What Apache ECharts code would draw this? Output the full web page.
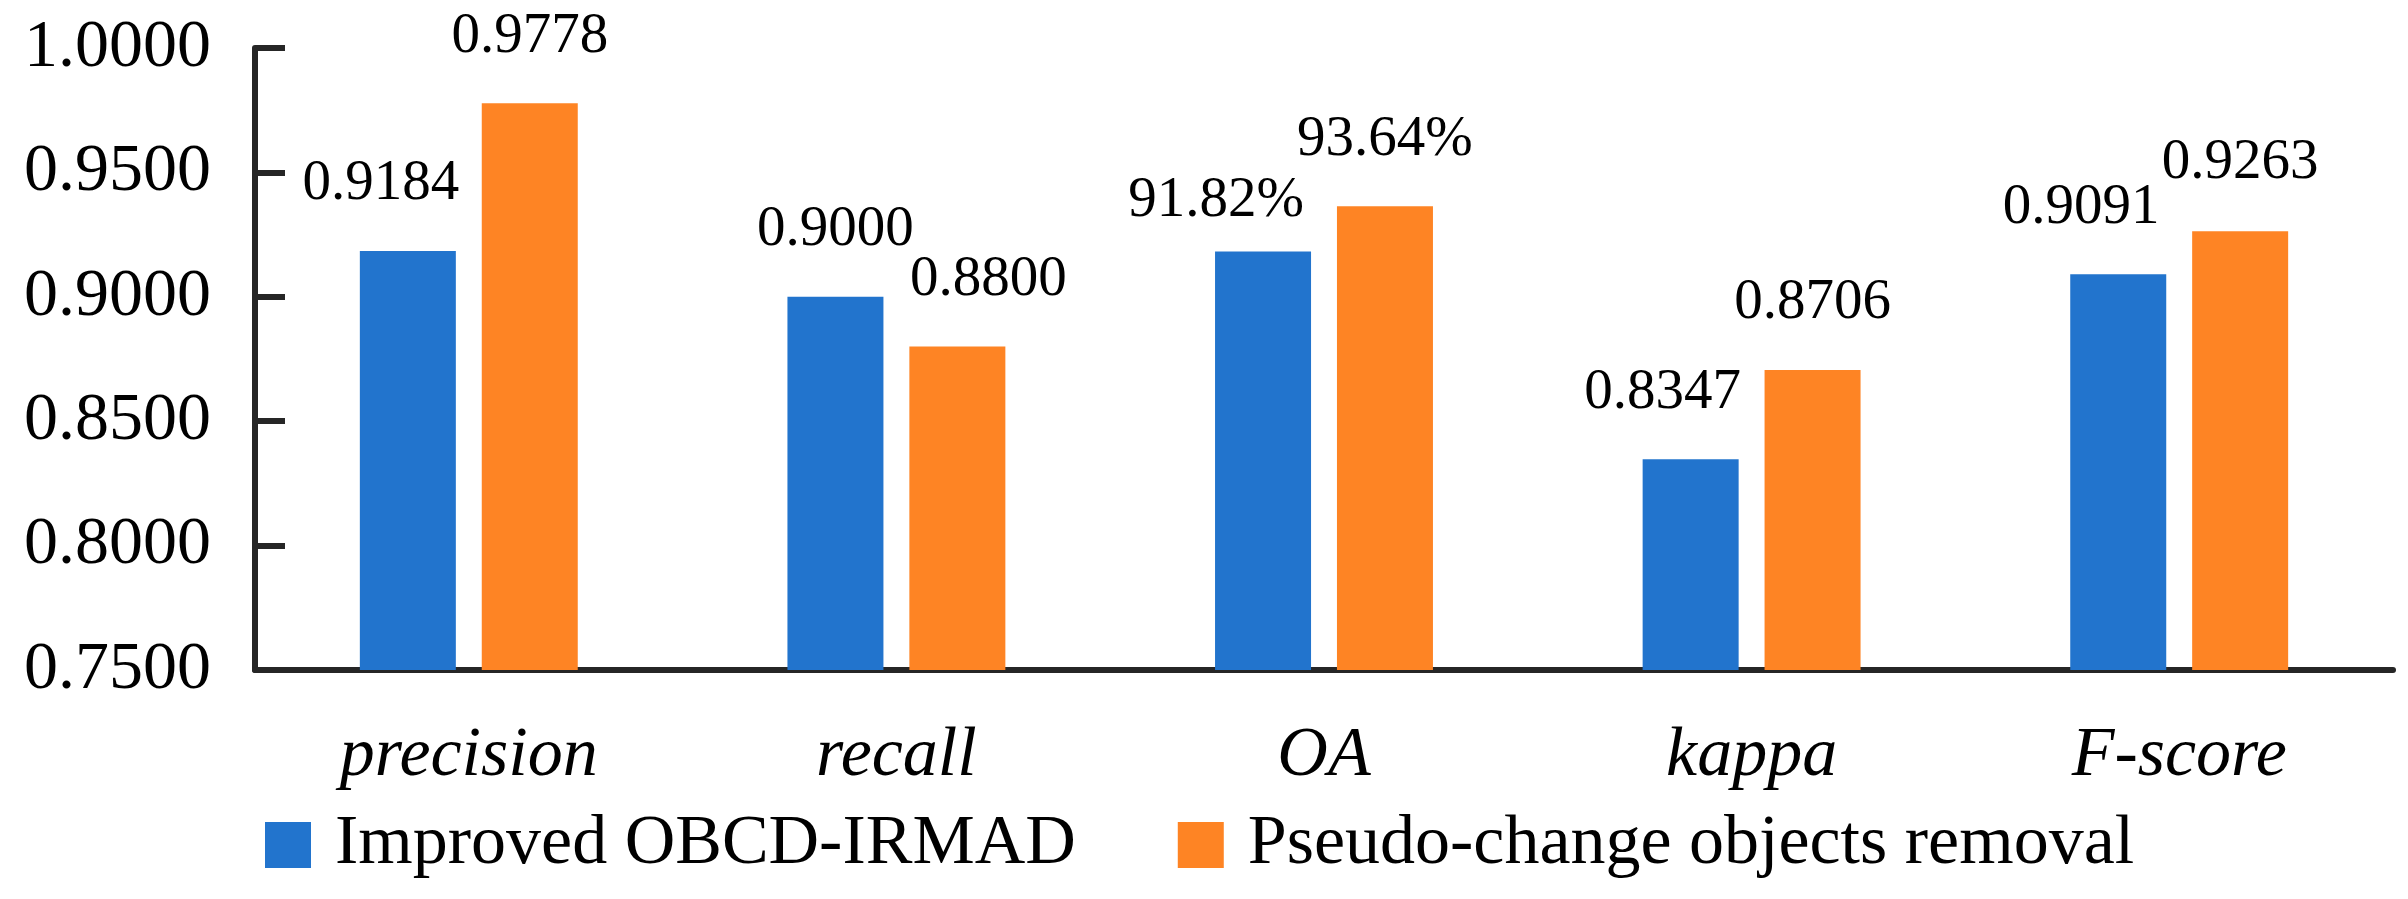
<!DOCTYPE html>
<html>
<head>
<meta charset="utf-8">
<script src="https://cdn.jsdelivr.net/npm/echarts@6/dist/echarts.min.js"></script>
<style>
  html, body { margin: 0; padding: 0; background: #fff; }
  #chart { width: 2408px; height: 899px; }
  .warm { position: absolute; left: -9999px; top: 0; font-family: "Liberation Serif", serif; font-size: 40px; }
</style>
</head>
<body>
<span class="warm">0.9184 precision</span><span class="warm" style="font-style:italic">precision kappa</span>
<div id="chart"></div>
<script>
const categories = ['precision', 'recall', 'OA', 'kappa', 'F-score'];
const improvedVals = [0.9184, 0.9000, 0.9182, 0.8347, 0.9091];
const pseudoVals = [0.9778, 0.8800, 0.9364, 0.8706, 0.9263];
const seriesNames = ['Improved OBCD-IRMAD', 'Pseudo-change objects removal'];

// label nudges (x, y) so the numbers sit like in the figure
const improvedShift = [[-27, 0], [0, 0], [-47, 16], [-28, 0], [-37, 0]];
const pseudoShift = [[0, 0], [31, 0], [0, 0], [0, 0], [0, -2]];

const serif = '"Liberation Serif", "Times New Roman", "DejaVu Serif", serif';

const fmt = (v, i) => categories[i] === 'OA' ? (v * 100).toFixed(2) + '%' : v.toFixed(4);

const makeData = (vals, shift) => vals.map((v, i) => ({
  value: v,
  label: { offset: shift[i] }
}));

const draw = () => {
  const chart = echarts.init(document.getElementById('chart'));
  chart.setOption({
    animation: false,
    grid: { left: 255, right: 15, top: 48, bottom: 229, containLabel: false },
    legend: {
      left: 260,
      top: 805,
      itemWidth: 46,
      itemHeight: 46,
      itemGap: 102,
      icon: 'rect',
      textStyle: { fontFamily: serif, fontSize: 70, color: '#000', padding: [0, 0, 0, 19] },
      data: seriesNames
    },
    xAxis: {
      type: 'category',
      data: categories,
      axisLine: { lineStyle: { color: '#262626', width: 6 } },
      axisTick: { show: false },
      axisLabel: {
        fontFamily: serif, fontStyle: 'italic', fontSize: 70, color: '#000', margin: 52
      }
    },
    yAxis: {
      type: 'value',
      min: 0.75,
      max: 1.0,
      interval: 0.05,
      splitLine: { show: false },
      axisLine: { show: true, lineStyle: { color: '#262626', width: 6 } },
      axisTick: { show: true, inside: true, length: 30, lineStyle: { color: '#262626', width: 6 } },
      axisLabel: {
        fontFamily: serif, fontSize: 68, color: '#000', margin: 44,
        formatter: v => v.toFixed(4)
      }
    },
    series: [
      {
        name: seriesNames[0],
        type: 'bar',
        barWidth: 96,
        barGap: '27%',
        itemStyle: { color: '#2274cd' },
        label: {
          show: true, position: 'top', distance: 38,
          fontFamily: serif, fontSize: 57, color: '#000',
          formatter: p => fmt(p.value, p.dataIndex)
        },
        data: makeData(improvedVals, improvedShift)
      },
      {
        name: seriesNames[1],
        type: 'bar',
        barWidth: 96,
        itemStyle: { color: '#fe8424' },
        label: {
          show: true, position: 'top', distance: 38,
          fontFamily: serif, fontSize: 57, color: '#000',
          formatter: p => fmt(p.value, p.dataIndex)
        },
        data: makeData(pseudoVals, pseudoShift)
      }
    ]
  });
};

Promise.all([
  document.fonts.load('57px "Liberation Serif"'),
  document.fonts.load('italic 70px "Liberation Serif"')
]).then(draw, draw);
</script>
</body>
</html>
